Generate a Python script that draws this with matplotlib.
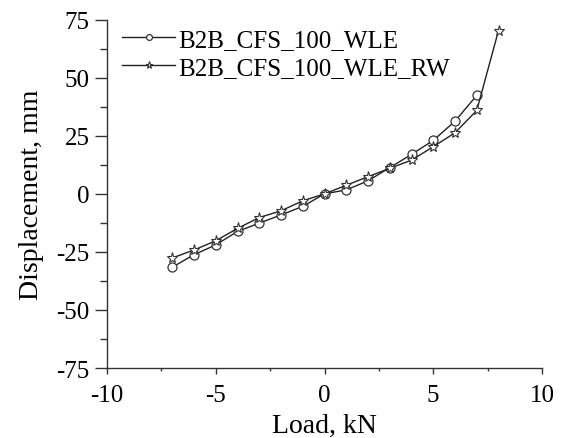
import matplotlib
matplotlib.use("Agg")
import matplotlib.pyplot as plt
from matplotlib.ticker import MultipleLocator

load_wle = [-7, -6, -5, -4, -3, -2, -1, 0, 1, 2, 3, 4, 5, 6, 7]
disp_wle = [-31.6, -26.2, -22.0, -16.2, -12.6, -9.1, -5.4, 0.0, 1.7, 5.6, 11.3, 17.0, 23.0, 31.3, 42.4]
load_rw = [-7, -6, -5, -4, -3, -2, -1, 0, 1, 2, 3, 4, 5, 6, 7, 8]
disp_rw = [-27.6, -24.2, -20.2, -14.9, -10.2, -7.3, -3.0, 0.0, 3.7, 7.4, 11.0, 14.5, 20.3, 26.3, 35.9, 70.3]
labels = ["B2B_CFS_100_WLE", "B2B_CFS_100_WLE_RW"]

plt.rcParams['font.family'] = ['Liberation Serif', 'DejaVu Serif']
plt.rcParams['axes.unicode_minus'] = False
fig = plt.figure(figsize=(5.67, 4.39), dpi=100)
ax = fig.add_axes([107/567, 1-369/439, 435/567, (369-20.7)/439])

ax.plot(load_wle, disp_wle, color='#222222', lw=1.0, marker='o', ms=6.5,
        mfc='white', mec='#333333', mew=0.9, label=labels[0])
ax.plot(load_rw, disp_rw, color='#222222', lw=1.0, marker='*', ms=8,
        mfc='white', mec='#333333', mew=0.8, label=labels[1])

ax.set_xlim(-10, 10)
ax.set_ylim(-75, 75)
ax.xaxis.set_major_locator(MultipleLocator(5))
ax.xaxis.set_minor_locator(MultipleLocator(2.5))
ax.yaxis.set_major_locator(MultipleLocator(25))
ax.yaxis.set_minor_locator(MultipleLocator(12.5))
for s in ['top', 'right']:
    ax.spines[s].set_visible(False)
for s in ['left', 'bottom']:
    ax.spines[s].set_linewidth(1.0)
    ax.spines[s].set_color('#333333')
ax.tick_params(axis='y', which='major', direction='out', length=8.5, width=1.0, pad=4, labelsize=18, color='#333333')
ax.tick_params(axis='y', which='minor', direction='out', length=5, width=1.0, color='#333333')
ax.tick_params(axis='x', which='major', direction='out', length=4.5, width=1.0, pad=7, labelsize=18, color='#333333')
ax.tick_params(axis='x', which='minor', direction='out', length=2.5, width=1.0, color='#333333')
ax.set_xlabel("Load, kN", fontsize=20, labelpad=5)
ax.set_ylabel("Displacement, mm", fontsize=20, labelpad=9)

ax.legend(loc='upper left', bbox_to_anchor=(-0.005, 1.025), frameon=False, fontsize=18,
          handlelength=2.1, handletextpad=0.12, borderaxespad=0.3, labelspacing=0.22,
          markerscale=0.65)

fig.savefig("out.png", dpi=100)
